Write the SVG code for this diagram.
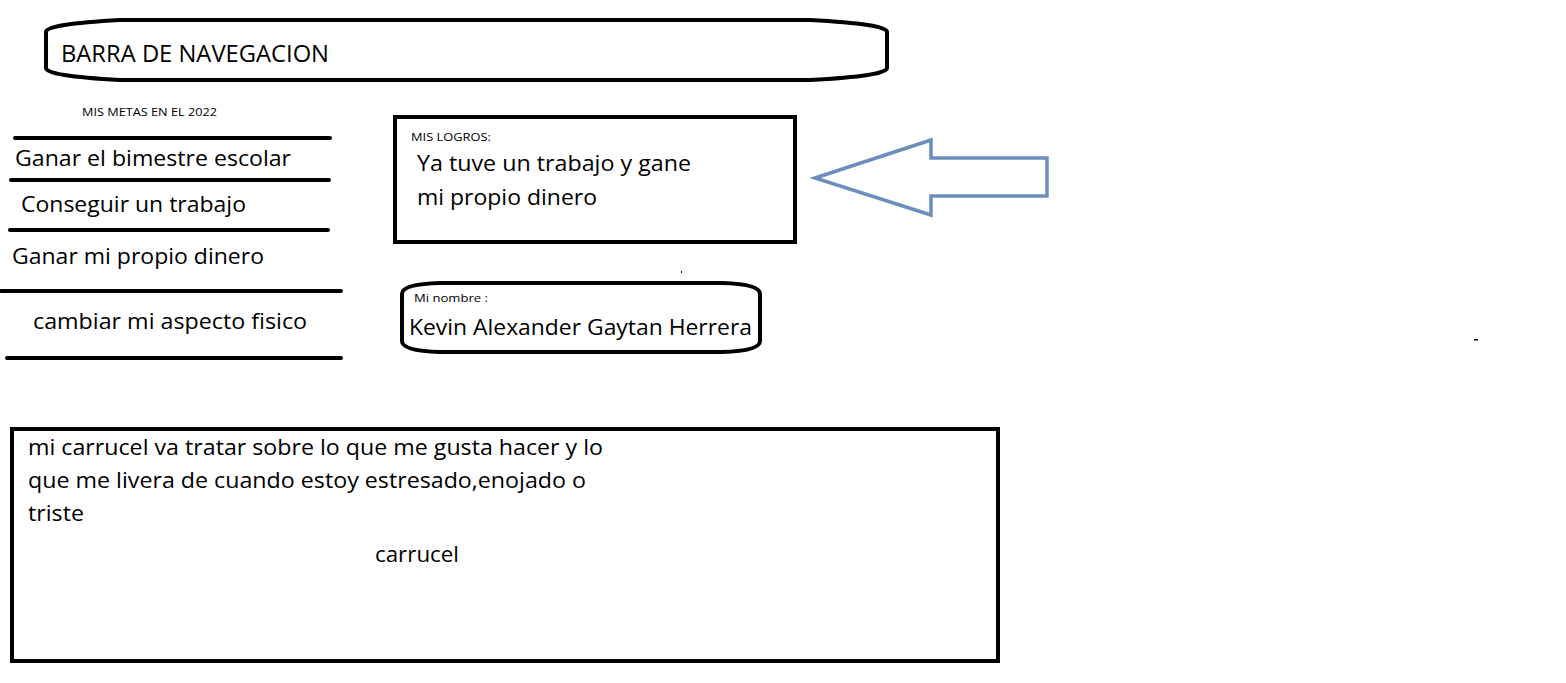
<svg xmlns="http://www.w3.org/2000/svg" width="1566" height="683" viewBox="0 0 1566 683">
<style>
text{font-family:"Open Sans","Noto Sans","Liberation Sans",sans-serif;fill:#000}
.big{font-size:22px}
.sm{font-size:11.5px}
.ln{stroke:#000;stroke-width:4;stroke-linecap:round}
.box{fill:#fff;stroke:#000;stroke-width:4}
</style>
<rect width="1566" height="683" fill="#fff"/>
<g id="nav">
<path class="box" d="M46,32 Q46,24 120,20 L810,20 Q887,24 887,32 L887,68 Q887,76 810,80 L120,80 Q46,76 46,68 Z"/>
<text x="61" y="62" font-size="23" textLength="268" lengthAdjust="spacingAndGlyphs">BARRA DE NAVEGACION</text>
</g>
<g id="metas">
<text class="sm" x="82" y="116" textLength="135" lengthAdjust="spacingAndGlyphs">MIS METAS EN EL 2022</text>
<line class="ln" x1="15" y1="138" x2="330" y2="138"/>
<text class="big" x="15" y="166" textLength="276" lengthAdjust="spacingAndGlyphs">Ganar el bimestre escolar</text>
<line class="ln" x1="11" y1="180" x2="329" y2="180"/>
<text class="big" x="21" y="212" textLength="225" lengthAdjust="spacingAndGlyphs">Conseguir un trabajo</text>
<line class="ln" x1="10" y1="230" x2="328" y2="230"/>
<text class="big" x="12" y="264" textLength="252" lengthAdjust="spacingAndGlyphs">Ganar mi propio dinero</text>
<line class="ln" x1="1" y1="291" x2="341" y2="291"/>
<text class="big" x="33" y="329" textLength="274" lengthAdjust="spacingAndGlyphs">cambiar mi aspecto fisico</text>
<line class="ln" x1="7" y1="358" x2="341" y2="358"/>
</g>
<g id="logros">
<rect class="box" x="395" y="117" width="400" height="125"/>
<text class="sm" x="411" y="141" textLength="80" lengthAdjust="spacingAndGlyphs">MIS LOGROS:</text>
<text class="big" x="417" y="171" textLength="274" lengthAdjust="spacingAndGlyphs">Ya tuve un trabajo y gane</text>
<text class="big" x="417" y="205" textLength="180" lengthAdjust="spacingAndGlyphs">mi propio dinero</text>
</g>
<g id="connectors">
<polygon points="815,178 931,140 931,158 1047,158 1047,196 931,196 931,215" fill="none" stroke="#6C8EBF" stroke-width="3.5" stroke-linejoin="miter"/>
</g>
<g id="nombre">
<path class="box" d="M402,294 Q402,284 440,283 L722,283 Q760,284 760,294 L760,341 Q760,351 722,352 L440,352 Q402,351 402,341 Z"/>
<text class="sm" x="414" y="302" textLength="74" lengthAdjust="spacingAndGlyphs">Mi nombre :</text>
<text x="409" y="335" font-size="22" textLength="343" lengthAdjust="spacingAndGlyphs">Kevin Alexander Gaytan Herrera</text>
</g>
<g id="carrucel">
<rect class="box" x="12" y="429" width="986" height="232"/>
<text class="big" x="28" y="455" textLength="575" lengthAdjust="spacingAndGlyphs">mi carrucel va tratar sobre lo que me gusta hacer y lo</text>
<text class="big" x="28" y="488" textLength="558" lengthAdjust="spacingAndGlyphs">que me livera de cuando estoy estresado,enojado o</text>
<text class="big" x="28" y="521" textLength="56" lengthAdjust="spacingAndGlyphs">triste</text>
<text class="big" x="375" y="562" textLength="84" lengthAdjust="spacingAndGlyphs">carrucel</text>
</g>
<rect x="681" y="271" width="1" height="2" fill="#000"/>
<rect x="1474" y="339" width="4" height="1.5" fill="#000"/>
</svg>
